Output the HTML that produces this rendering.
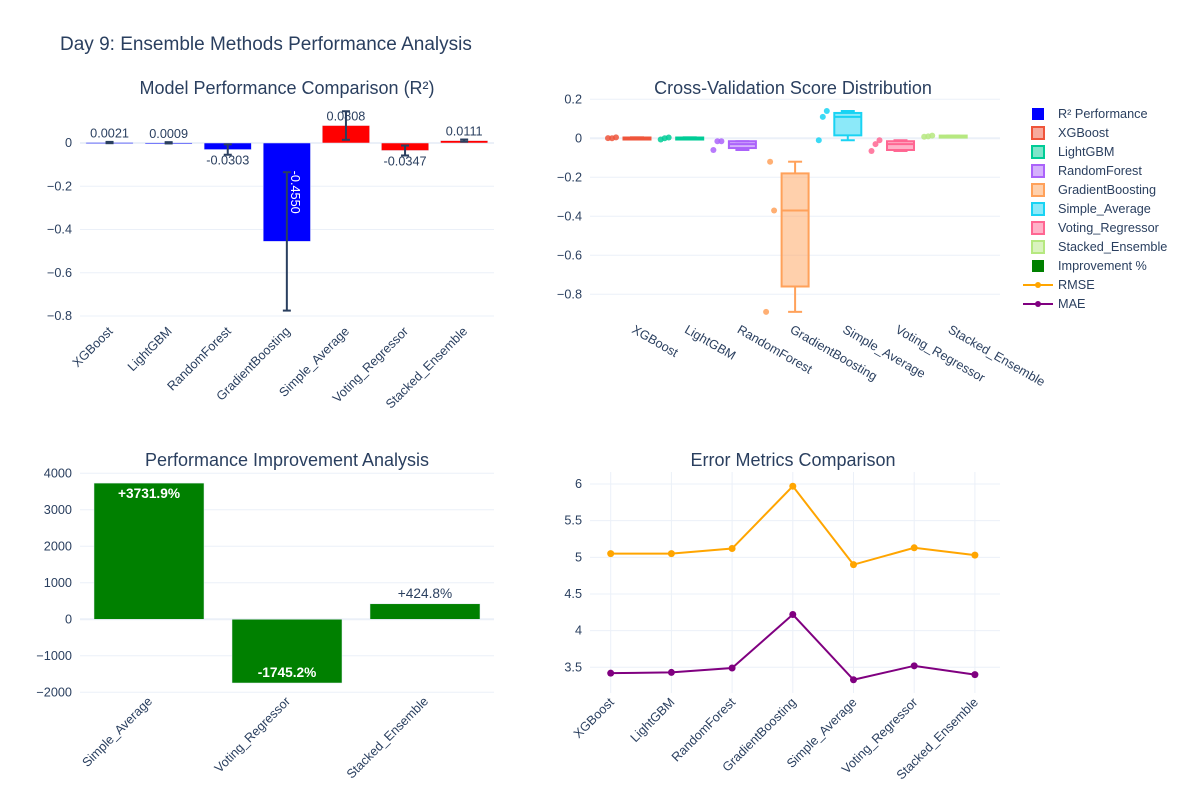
<!DOCTYPE html>
<html><head><meta charset="utf-8"><style>
body{margin:0;background:#fff;}
svg{display:block;font-family:"Liberation Sans",sans-serif;}
</style></head><body>
<svg id="c" width="1189" height="800" xmlns="http://www.w3.org/2000/svg"></svg>
<script>
const models=["XGBoost","LightGBM","RandomForest","GradientBoosting","Simple_Average","Voting_Regressor","Stacked_Ensemble"];
const r2=[0.0021,0.0009,-0.0303,-0.4550,0.0808,-0.0347,0.0111];
const r2err=[0.003,0.003,0.024,0.32,0.066,0.023,0.005];
const r2labels=["0.0021","0.0009","-0.0303","-0.4550","0.0808","-0.0347","0.0111"];
const cvPoints=[[0.0,0.005,0.001],[0.0,0.004,-0.006],[-0.015,-0.015,-0.06],[-0.12,-0.37,-0.89],[0.11,0.14,-0.01],[-0.03,-0.01,-0.065],[0.01,0.014,0.008]];
const cvLow=[0.0,-0.006,-0.06,-0.89,-0.01,-0.065,0.008];
const cvQ1=[0.0,-0.004,-0.05,-0.76,0.015,-0.06,0.009];
const cvMed=[0.002,0.0,-0.03,-0.37,0.11,-0.03,0.012];
const cvQ3=[0.004,0.004,-0.015,-0.18,0.13,-0.015,0.014];
const cvHigh=[0.005,0.005,-0.015,-0.12,0.14,-0.01,0.014];
const boxColors=["#EF553B","#00CC96","#AB63FA","#FFA15A","#19D3F3","#FF6692","#B6E880"];
const impCats=["Simple_Average","Voting_Regressor","Stacked_Ensemble"];
const impVals=[3731.9,-1745.2,424.8];
const impLabels=["+3731.9%","-1745.2%","+424.8%"];
const rmse=[5.05,5.05,5.12,5.97,4.90,5.13,5.03];
const mae=[3.42,3.43,3.49,4.22,3.33,3.52,3.40];
const tl_ticks=[0,-0.2,-0.4,-0.6,-0.8];
const tr_ticks=[0.2,0,-0.2,-0.4,-0.6,-0.8];
const bl_ticks=[4000,3000,2000,1000,0,-1000,-2000];
const br_ticks=[6,5.5,5,4.5,4,3.5];

const svg=document.getElementById('c');
const NS="http://www.w3.org/2000/svg";
function el(tag,attrs,parent,text){const e=document.createElementNS(NS,tag);for(const k in attrs)e.setAttribute(k,attrs[k]);if(text!==undefined)e.textContent=text;(parent||svg).appendChild(e);return e;}
const TC="#2a3f5f",GRID="#ebf0f8",FS=12.7;
function lin(d0,d1,r0,r1){return v=>r0+(v-d0)*(r1-r0)/(d1-d0);}
function tickFmt(v){return v<0?"\u2212"+Math.abs(v):String(v);}

let t=el('text',{x:60,y:50,'font-size':19,fill:TC},svg,"Day 9: Ensemble Methods Performance Analysis");


function yAxis(g,ticks,y,x0,x1,name){
  ticks.forEach(v=>{
    const l=el('line',{x1:x0,x2:x1,y1:y(v),y2:y(v),stroke:GRID,'stroke-width':v===0?2:1},g);
    
    const tx=el('text',{x:x0-8,y:y(v)+4,'text-anchor':'end','font-size':FS,fill:TC},g,tickFmt(v));
    
  });
}

// ---- Top-left: R2 bars
(function(){
  const g=el('g',{});
  const tt=el('text',{x:287,y:94,'text-anchor':'middle','font-size':18,fill:TC},g,"Model Performance Comparison (R\u00b2)");
  
  const y=lin(0,-0.8,143,316);const bw=59.1;const cx=i=>80+bw*(i+0.5);
  yAxis(g,tl_ticks,y,80,494,'r2');
  r2.forEach((v,i)=>{
    const w=bw*0.8;const top=Math.min(y(v),y(0)),h=Math.max(Math.abs(y(v)-y(0)),1);
    const b=el('rect',{x:cx(i)-w/2,y:top,width:w,height:h,fill:i<4?'#0000ff':'#ff0000',stroke:'#e5ecf6','stroke-width':0.5},g);
    
    const e1=y(v+r2err[i]),e2=y(v-r2err[i]);
    const eg=el('g',{stroke:'#2a3f5f','stroke-width':2},g);
    el('line',{x1:cx(i),x2:cx(i),y1:e1,y2:e2},eg);el('line',{x1:cx(i)-4,x2:cx(i)+4,y1:e1,y2:e1},eg);el('line',{x1:cx(i)-4,x2:cx(i)+4,y1:e2,y2:e2},eg);
    let lb;
    if(i===3){lb=el('text',{x:0,y:0,'text-anchor':'middle','font-size':FS,fill:'#fff',transform:`translate(${cx(i)+4},${(y(0)+y(v))/2}) rotate(90)`},g,r2labels[i]);}
    else if(v>=0){lb=el('text',{x:cx(i),y:y(v)-5,'text-anchor':'middle','font-size':FS,fill:TC},g,r2labels[i]);}
    else{lb=el('text',{x:cx(i),y:y(v)+15,'text-anchor':'middle','font-size':FS,fill:TC},g,r2labels[i]);}
    
    const xl=el('text',{x:0,y:0,'text-anchor':'end','font-size':FS,fill:TC,transform:`translate(${cx(i)+4},${332}) rotate(-45)`},g,models[i]);
    
  });
})();

// ---- Top-right: box plots
(function(){
  const g=el('g',{});
  const tt=el('text',{x:793,y:94,'text-anchor':'middle','font-size':18,fill:TC},g,"Cross-Validation Score Distribution");
  
  const y=lin(0,-0.8,138.3,294.3);const cx=i=>629+52.7*i;
  yAxis(g,tr_ticks,y,590,1000,'cv');
  models.forEach((m,i)=>{
    const c=boxColors[i];const bx=cx(i)+8,w=27;
    const bg=el('g',{},g);
    el('line',{x1:bx,x2:bx,y1:y(cvHigh[i]),y2:y(cvQ3[i]),stroke:c,'stroke-width':2},bg);
    el('line',{x1:bx,x2:bx,y1:y(cvQ1[i]),y2:y(cvLow[i]),stroke:c,'stroke-width':2},bg);
    el('line',{x1:bx-7,x2:bx+7,y1:y(cvHigh[i]),y2:y(cvHigh[i]),stroke:c,'stroke-width':2},bg);
    el('line',{x1:bx-7,x2:bx+7,y1:y(cvLow[i]),y2:y(cvLow[i]),stroke:c,'stroke-width':2},bg);
    el('rect',{x:bx-w/2,y:y(cvQ3[i]),width:w,height:Math.max(y(cvQ1[i])-y(cvQ3[i]),2),fill:c,'fill-opacity':0.5,stroke:c,'stroke-width':2},bg);
    el('line',{x1:bx-w/2,x2:bx+w/2,y1:y(cvMed[i]),y2:y(cvMed[i]),stroke:c,'stroke-width':2},bg);
    cvPoints[i].forEach((p,k)=>{
      const pt=el('circle',{cx:cx(i)-17+[0,4,-4][k],cy:y(p),r:3,fill:c,'fill-opacity':0.85},bg);
      
    });
    const xl=el('text',{x:0,y:0,'font-size':FS,fill:TC,transform:`translate(${cx(i)+2},${332}) rotate(30)`},g,m);
    
  });
})();

// ---- Bottom-left: improvement
(function(){
  const g=el('g',{});
  const tt=el('text',{x:287,y:466,'text-anchor':'middle','font-size':18,fill:TC},g,"Performance Improvement Analysis");
  
  const y=lin(0,4000,619.3,473.3);const bw=138;const cx=i=>80+bw*(i+0.5);
  yAxis(g,bl_ticks,y,80,494,'improvement');
  impVals.forEach((v,i)=>{
    const w=110;const top=Math.min(y(v),y(0)),h=Math.abs(y(v)-y(0));
    const b=el('rect',{x:cx(i)-w/2,y:top,width:w,height:h,fill:'#008000',stroke:'#e5ecf6','stroke-width':0.5},g);
    
    let lb;
    if(Math.abs(y(v)-y(0))>40){lb=el('text',{x:cx(i),y:v>0?y(v)+15:y(v)-6,'text-anchor':'middle','font-size':13.7,'font-weight':'bold',fill:'#fff'},g,impLabels[i]);}
    else{lb=el('text',{x:cx(i),y:y(v)-6,'text-anchor':'middle','font-size':13.7,fill:TC},g,impLabels[i]);}
    
    const xl=el('text',{x:0,y:0,'text-anchor':'end','font-size':FS,fill:TC,transform:`translate(${cx(i)+4},${702}) rotate(-45)`},g,impCats[i]);
    
  });
})();

// ---- Bottom-right: error lines
(function(){
  const g=el('g',{});
  const tt=el('text',{x:793,y:466,'text-anchor':'middle','font-size':18,fill:TC},g,"Error Metrics Comparison");
  
  const y=lin(6,3.5,484,667.3);const cx=i=>610.7+60.7*i;
  models.forEach((m,i)=>{const l=el('line',{x1:cx(i),x2:cx(i),y1:472,y2:693,stroke:GRID},g);});
  yAxis(g,br_ticks,y,590,1000,'error');
  [[rmse,'#FFA500','rmse'],[mae,'#800080','mae']].forEach(([arr,c,n])=>{
    const p=el('polyline',{points:arr.map((v,i)=>cx(i)+','+y(v)).join(' '),fill:'none',stroke:c,'stroke-width':2},g);
    
    arr.forEach((v,i)=>{const d=el('circle',{cx:cx(i),cy:y(v),r:3.5,fill:c},g);});
  });
  models.forEach((m,i)=>{
    const xl=el('text',{x:0,y:0,'text-anchor':'end','font-size':FS,fill:TC,transform:`translate(${cx(i)+4},${703}) rotate(-45)`},g,m);
    
  });
})();

// ---- Legend
(function(){
  const g=el('g',{});
  const items=[["R\u00b2 Performance","#0000ff","sq"]].concat(models.map((m,i)=>[m,boxColors[i],"box"])).concat([["Improvement %","#008000","sq"],["RMSE","#FFA500","line"],["MAE","#800080","line"]]);
  items.forEach((it,k)=>{
    const yy=114+19*k;
    const ig=el('g',{},g);
    if(it[2]==="sq")el('rect',{x:1032,y:yy-6,width:12,height:12,fill:it[1]},ig);
    else if(it[2]==="box")el('rect',{x:1032,y:yy-6,width:12,height:12,fill:it[1],'fill-opacity':0.5,stroke:it[1],'stroke-width':2},ig);
    else{el('line',{x1:1023,x2:1053,y1:yy,y2:yy,stroke:it[1],'stroke-width':2},ig);el('circle',{cx:1038,cy:yy,r:3,fill:it[1]},ig);}
    el('text',{x:1058,y:yy+4,'font-size':FS,fill:TC},ig,it[0]);
  });
})();
</script>
</body></html>
